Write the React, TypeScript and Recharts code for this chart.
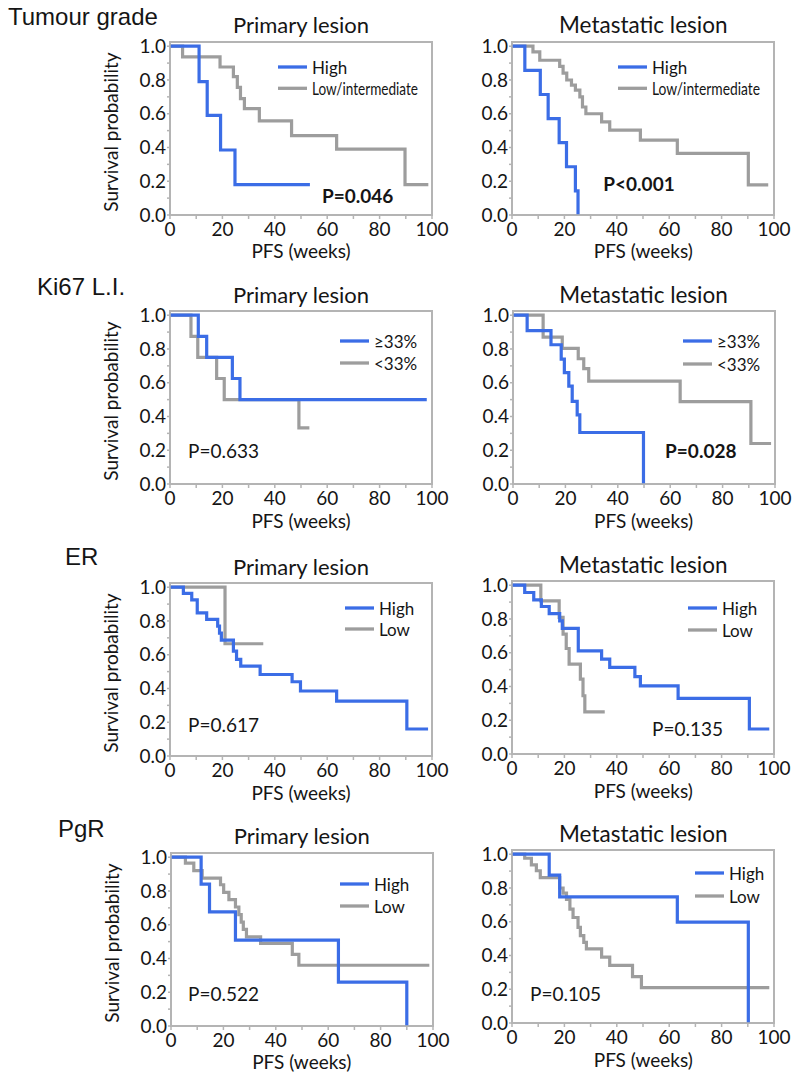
import React from 'react';
import { LineChart, Line, XAxis, YAxis, ReferenceArea, Legend } from 'recharts';

const BLUE = '#3b6de6';
const GRAY = '#9d9d9d';
const BOX = '#b4b4b4';
const TXT = '#151515';
const FONT = 'Lato, "Open Sans", sans-serif';
const ARIAL = '"Liberation Sans", Arial, sans-serif';

const xTicks = [0, 10, 20, 30, 40, 50, 60, 70, 80, 90, 100];
const yTicks = [0, 0.1, 0.2, 0.3, 0.4, 0.5, 0.6, 0.7, 0.8, 0.9, 1.0];
const rowLabels = ['Tumour grade', 'Ki67 L.I.', 'ER', 'PgR'];
const panelTitles = ['Primary lesion', 'Metastatic lesion'];
const pValues = ['P=0.046', 'P<0.001', 'P=0.633', 'P=0.028', 'P=0.617', 'P=0.135', 'P=0.522', 'P=0.105'];
const pBold = [true, true, false, true, false, false, false, false];

// [time (weeks), survival probability]
const gradePrimaryHigh = [[0, 1], [11.1, 0.79], [14.2, 0.59], [19.3, 0.385], [24.8, 0.18], [53.4, 0.18]];
const gradePrimaryLow = [[0, 1], [4.8, 0.937], [19.1, 0.877], [24.2, 0.82], [25.7, 0.756], [26.9, 0.69], [28.4, 0.63], [34.1, 0.558], [46.4, 0.47], [63.6, 0.39], [89.7, 0.18], [98.6, 0.18]];
const gradeMetaHigh = [[0, 1], [4.9, 0.857], [10.8, 0.714], [13.8, 0.571], [18, 0.429], [20.8, 0.286], [24.2, 0.143], [25.2, 0]];
const gradeMetaLow = [[0, 1], [8, 0.966], [10.6, 0.917], [18.2, 0.88], [19.5, 0.84], [20.9, 0.8], [22.7, 0.77], [24.2, 0.74], [25.9, 0.7], [26.9, 0.64], [28.2, 0.6], [34.2, 0.552], [37.3, 0.503], [49, 0.444], [63.1, 0.365], [90.2, 0.178], [97.8, 0.178]];

const ki67PrimaryHigh = [[0, 1], [10.8, 0.875], [14, 0.75], [23.8, 0.625], [26.7, 0.5], [98, 0.5]];
const ki67PrimaryLow = [[0, 1], [8, 0.875], [10.6, 0.75], [17.8, 0.625], [20.7, 0.5], [49.2, 0.333], [53.2, 0.333]];
const ki67MetaHigh = [[0, 1], [5.4, 0.909], [14.5, 0.825], [18.4, 0.74], [19.6, 0.66], [21.3, 0.58], [22.6, 0.49], [24.5, 0.41], [25.5, 0.305], [49.8, 0]];
const ki67MetaLow = [[0, 1], [11.5, 0.87], [18.8, 0.803], [24.9, 0.742], [27, 0.683], [28.9, 0.61], [63.8, 0.488], [90.8, 0.24], [98.5, 0.24]];

const erPrimaryHigh = [[0, 1], [5.1, 0.963], [8.3, 0.925], [10.4, 0.848], [14, 0.809], [18.2, 0.769], [18.9, 0.728], [19.6, 0.686], [24.2, 0.621], [25.4, 0.572], [27, 0.533], [34.4, 0.483], [46.6, 0.44], [49.8, 0.385], [63.6, 0.325], [90.4, 0.16], [98.5, 0.16]];
const erPrimaryLow = [[0, 1], [21, 0.665], [35.6, 0.665]];
const erMetaHigh = [[0, 1], [4.85, 0.957], [8.3, 0.913], [11.2, 0.874], [14.2, 0.832], [18.2, 0.789], [19.2, 0.744], [25.3, 0.611], [34.2, 0.562], [37.3, 0.513], [46.9, 0.459], [49, 0.404], [63.4, 0.329], [90.6, 0.148], [98.2, 0.148]];
const erMetaLow = [[0, 1], [11, 0.907], [18, 0.81], [19.5, 0.71], [20.7, 0.625], [21.8, 0.532], [26.1, 0.444], [27.1, 0.345], [27.8, 0.25], [35.4, 0.25]];

const pgrPrimaryHigh = [[0, 1], [11.5, 0.841], [14.7, 0.676], [24.6, 0.509], [63.9, 0.26], [90, 0]];
const pgrPrimaryLow = [[0, 1], [5.5, 0.965], [8.7, 0.921], [11.9, 0.876], [18.9, 0.837], [20.1, 0.792], [22.1, 0.749], [24.6, 0.705], [25.9, 0.66], [26.8, 0.615], [27.6, 0.572], [28.8, 0.528], [34.2, 0.49], [46.3, 0.424], [48.8, 0.36], [98.6, 0.36]];
const pgrMetaHigh = [[0, 1], [14.2, 0.876], [18.2, 0.747], [63.1, 0.598], [90.2, 0]];
const pgrMetaLow = [[0, 1], [4.85, 0.976], [7.4, 0.937], [9.3, 0.902], [10.8, 0.861], [18.2, 0.8], [19.5, 0.77], [20.8, 0.733], [22.1, 0.675], [23.3, 0.625], [25.2, 0.567], [26.1, 0.518], [27.4, 0.478], [28.4, 0.439], [34.2, 0.39], [37.3, 0.341], [46, 0.275], [49.4, 0.21], [98.2, 0.21]];

const toPts = (a: number[][]) => a.map(([t, s]) => ({ t, s }));

const W = 262;
const H = 173;
const UNIT = 169;
const ML = 60;
const MT = 10;
const MR = 20;
const XH = 30;

type Cfg = {
  x: number; y1: number; high: number[][]; low: number[][];
  highName: string; lowName: string; lowCompress?: number;
  p: number; pX: number; pY: number; legX: number; legY: number; gap: number;
  col: number;
};

const panels: Cfg[] = [
  { x: 170, y1: 46, high: gradePrimaryHigh, low: gradePrimaryLow, highName: 'High', lowName: 'Low/intermediate', lowCompress: 106, p: 0, pX: 152, pY: 149, legX: 108, legY: 20.7, gap: 21.3, col: 0 },
  { x: 512.3, y1: 46, high: gradeMetaHigh, low: gradeMetaLow, highName: 'High', lowName: 'Low/intermediate', lowCompress: 108, p: 1, pX: 91, pY: 137, legX: 106, legY: 20.7, gap: 21.3, col: 1 },
  { x: 170, y1: 315.7, high: ki67PrimaryHigh, low: ki67PrimaryLow, highName: '≥33%', lowName: '<33%', p: 2, pX: 18, pY: 134.3, legX: 170, legY: 25.3, gap: 22, col: 0 },
  { x: 512.6, y1: 315.7, high: ki67MetaHigh, low: ki67MetaLow, highName: '≥33%', lowName: '<33%', p: 3, pX: 152.5, pY: 134.3, legX: 170.5, legY: 25.3, gap: 23, col: 1 },
  { x: 170, y1: 587.7, high: erPrimaryHigh, low: erPrimaryLow, highName: 'High', lowName: 'Low', p: 4, pX: 18, pY: 136.3, legX: 175, legY: 20.3, gap: 21, col: 0 },
  { x: 512.3, y1: 585.7, high: erMetaHigh, low: erMetaLow, highName: 'High', lowName: 'Low', p: 5, pX: 139.7, pY: 142.3, legX: 175.7, legY: 22.3, gap: 22, col: 1 },
  { x: 170.7, y1: 857.3, high: pgrPrimaryHigh, low: pgrPrimaryLow, highName: 'High', lowName: 'Low', p: 6, pX: 17.3, pY: 135.7, legX: 169.3, legY: 26.7, gap: 22, col: 0 },
  { x: 512.3, y1: 854.7, high: pgrMetaHigh, low: pgrMetaLow, highName: 'High', lowName: 'Low', p: 7, pX: 17.7, pY: 138.3, legX: 182.7, legY: 18.3, gap: 23, col: 1 },
];

const rowLabelPos = [
  { x: 8, y: 17 },
  { x: 37, y: 287 },
  { x: 65, y: 557 },
  { x: 58, y: 829 },
];

const centered = (x: number, y: number): React.CSSProperties => ({
  position: 'absolute', left: x, top: y, transform: 'translate(-50%, -50%)', whiteSpace: 'nowrap', lineHeight: 1,
});
const leftMid = (x: number, y: number): React.CSSProperties => ({
  position: 'absolute', left: x, top: y, transform: 'translate(0, -50%)', whiteSpace: 'nowrap', lineHeight: 1,
});

function Panel({ cfg }: { cfg: Cfg }) {
  const boxTop = cfg.y1 - UNIT * 0.025;
  const cw = ML + W + MR;
  const ch = MT + H + XH;
  const legendContent = () => (
    <svg width={170} height={50} style={{ overflow: 'visible' }}>
      <line x1={0} x2={29} y1={10} y2={10} stroke={BLUE} strokeWidth={3.3} />
      <text x={34} y={10} dominantBaseline="central" fontFamily={FONT} fontSize={17} fill={TXT}>{cfg.highName}</text>
      <line x1={0} x2={29} y1={10 + cfg.gap} y2={10 + cfg.gap} stroke={GRAY} strokeWidth={3.3} />
      <text x={34} y={10 + cfg.gap} dominantBaseline="central" fontFamily={FONT} fontSize={17} fill={TXT}
        {...(cfg.lowCompress ? { textLength: cfg.lowCompress, lengthAdjust: 'spacingAndGlyphs' } : {})}>{cfg.lowName}</text>
    </svg>
  );
  return (
    <div style={{ position: 'absolute', left: cfg.x - ML, top: boxTop - MT, width: cw, height: ch }}>
      <LineChart width={cw} height={ch} margin={{ top: MT, right: MR, left: 0, bottom: 0 }}>
        <XAxis type="number" dataKey="t" domain={[0, 100]} ticks={xTicks} interval={0} allowDataOverflow
          tickFormatter={(v: number) => (v % 20 === 0 ? String(v) : '')}
          tickSize={4} tickMargin={4} height={XH} stroke={BOX} strokeWidth={1.5}
          tick={{ fill: TXT, fontSize: 19, fontFamily: FONT }} />
        <YAxis type="number" domain={[0, 1.025]} ticks={yTicks} interval={0} allowDataOverflow width={ML}
          tickFormatter={(v: number) => (Math.round(v * 10) % 2 === 0 ? v.toFixed(1) : '')}
          tickSize={3} tickMargin={1} stroke={BOX} strokeWidth={1.5}
          tick={{ fill: TXT, fontSize: 19, fontFamily: FONT }} />
        <ReferenceArea x1={0} x2={100} y1={0} y2={1.025} fill="none" stroke={BOX} strokeWidth={2} ifOverflow="visible" />
        <Line data={toPts(cfg.low)} dataKey="s" name={cfg.lowName} type="stepAfter" stroke={GRAY} strokeWidth={3.2} dot={false} isAnimationActive={false} />
        <Line data={toPts(cfg.high)} dataKey="s" name={cfg.highName} type="stepAfter" stroke={BLUE} strokeWidth={3.2} dot={false} isAnimationActive={false} />
        <Legend layout="horizontal" verticalAlign="middle" align="center" content={legendContent}
          wrapperStyle={{ position: 'absolute', left: ML + cfg.legX, top: MT + UNIT * 0.025 + cfg.legY - 10, width: 170, height: 50 }} />
      </LineChart>
      <div style={{ ...leftMid(ML + cfg.pX, MT + UNIT * 0.025 + cfg.pY), fontFamily: FONT, fontSize: 19, fontWeight: pBold[cfg.p] ? 700 : 400, color: TXT }}>
        {pValues[cfg.p]}
      </div>
    </div>
  );
}

export default function App() {
  return (
    <div style={{ position: 'absolute', left: 0, top: 0, width: 796, height: 1078, background: '#fff', overflow: 'hidden' }}>
      {rowLabels.map((l, i) => (
        <div key={l} style={{ ...leftMid(rowLabelPos[i].x, rowLabelPos[i].y), fontFamily: ARIAL, fontSize: 24, color: TXT }}>{l}</div>
      ))}
      {panels.map((c, i) => {
        const y0 = c.y1 + UNIT;
        return (
          <React.Fragment key={i}>
            <div style={{ ...centered(c.x + W / 2, c.y1 - 21), fontFamily: FONT, fontSize: c.col === 0 ? 22 : 22.5, color: TXT }}>{panelTitles[c.col]}</div>
            <div style={{ ...centered(c.x + W / 2, c.y1 + UNIT + 35), fontFamily: FONT, fontSize: 19, color: TXT }}>PFS (weeks)</div>
            {c.col === 0 && (
              <div style={{ ...centered(c.x - 60, (c.y1 + y0) / 2 + 1), transform: 'translate(-50%, -50%) rotate(-90deg)', fontFamily: FONT, fontSize: 19, color: TXT }}>
                Survival probability
              </div>
            )}
            <Panel cfg={c} />
          </React.Fragment>
        );
      })}
    </div>
  );
}
